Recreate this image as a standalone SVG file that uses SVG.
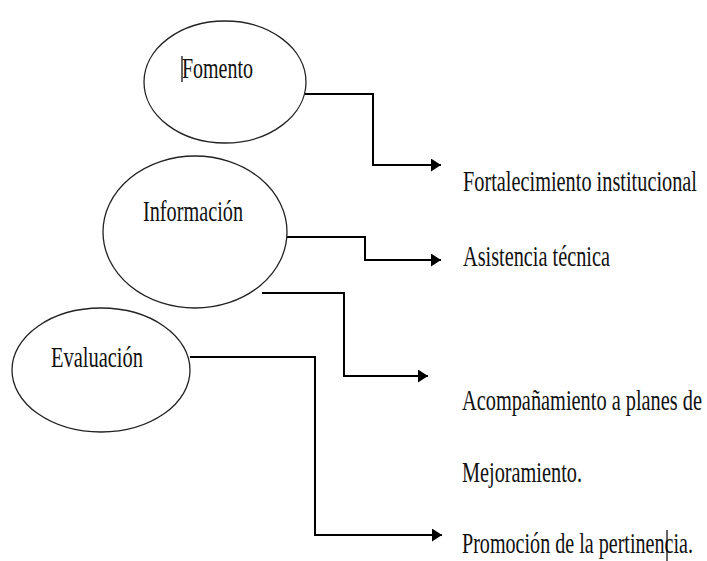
<svg xmlns="http://www.w3.org/2000/svg" width="707" height="561" viewBox="0 0 707 561">
  <style>
    .node ellipse { fill: #ffffff; stroke: #222222; stroke-width: 1.3; }
    .t { font-size: 18px; fill: #111111; }
    .conn { fill: none; stroke: #000000; stroke-width: 2; }
    .cursor { stroke: #000000; stroke-width: 1.2; }
  </style>
  <defs>
    <marker id="arrow" markerUnits="userSpaceOnUse" markerWidth="11" markerHeight="14" refX="10" refY="6.5" orient="auto">
      <path d="M0,0 L10,6.5 L0,13 z" fill="#000000"/>
    </marker>
  </defs>
  <rect width="707" height="561" fill="#ffffff"/>

  <g id="connectors">
    <polyline class="conn" points="305,94 373,94 373,165 441,165" marker-end="url(#arrow)"/>
    <polyline class="conn" points="287,237 365,237 365,260 441,260" marker-end="url(#arrow)"/>
    <polyline class="conn" points="262,293 344,293 344,376 428,376" marker-end="url(#arrow)"/>
    <polyline class="conn" points="190,357 315,357 315,535 442,535" marker-end="url(#arrow)"/>
  </g>

  <g font-family="Liberation Serif, Times New Roman, serif">
  <g id="fomento" class="node">
    <ellipse cx="225" cy="82" rx="81" ry="61"/>
    <text class="t" style="font-family:'Liberation Serif',serif" transform="translate(182,78) scale(1,1.58)" textLength="71" lengthAdjust="spacingAndGlyphs">Fomento</text>
    <line class="cursor" x1="182" y1="56" x2="182" y2="82"/>
  </g>

  <g id="informacion" class="node">
    <ellipse cx="195" cy="232" rx="92" ry="76"/>
    <text class="t" style="font-family:'Liberation Serif',serif" transform="translate(143,221) scale(1,1.58)" textLength="100" lengthAdjust="spacingAndGlyphs">Información</text>
  </g>

  <g id="evaluacion" class="node">
    <ellipse cx="101" cy="370" rx="89" ry="62"/>
    <text class="t" style="font-family:'Liberation Serif',serif" transform="translate(51,367) scale(1,1.58)" textLength="92" lengthAdjust="spacingAndGlyphs">Evaluación</text>
  </g>

  <g id="fortalecimiento">
    <text class="t" style="font-family:'Liberation Serif',serif" transform="translate(463,191) scale(1,1.58)" textLength="234" lengthAdjust="spacingAndGlyphs">Fortalecimiento institucional</text>
  </g>
  <g id="asistencia">
    <text class="t" style="font-family:'Liberation Serif',serif" transform="translate(463,266) scale(1,1.58)" textLength="147" lengthAdjust="spacingAndGlyphs">Asistencia técnica</text>
  </g>
  <g id="acompanamiento">
    <text class="t" style="font-family:'Liberation Serif',serif" transform="translate(462,410) scale(1,1.58)" textLength="240" lengthAdjust="spacingAndGlyphs">Acompañamiento a planes de</text>
    <text class="t" style="font-family:'Liberation Serif',serif" transform="translate(462,482) scale(1,1.58)" textLength="120" lengthAdjust="spacingAndGlyphs">Mejoramiento.</text>
  </g>
  <g id="promocion">
    <text class="t" style="font-family:'Liberation Serif',serif" transform="translate(462,553) scale(1,1.58)" textLength="231" lengthAdjust="spacingAndGlyphs">Promoción de la pertinencia.</text>
    <line class="cursor" x1="667" y1="530" x2="667" y2="561"/>
  </g>
  </g>
</svg>
